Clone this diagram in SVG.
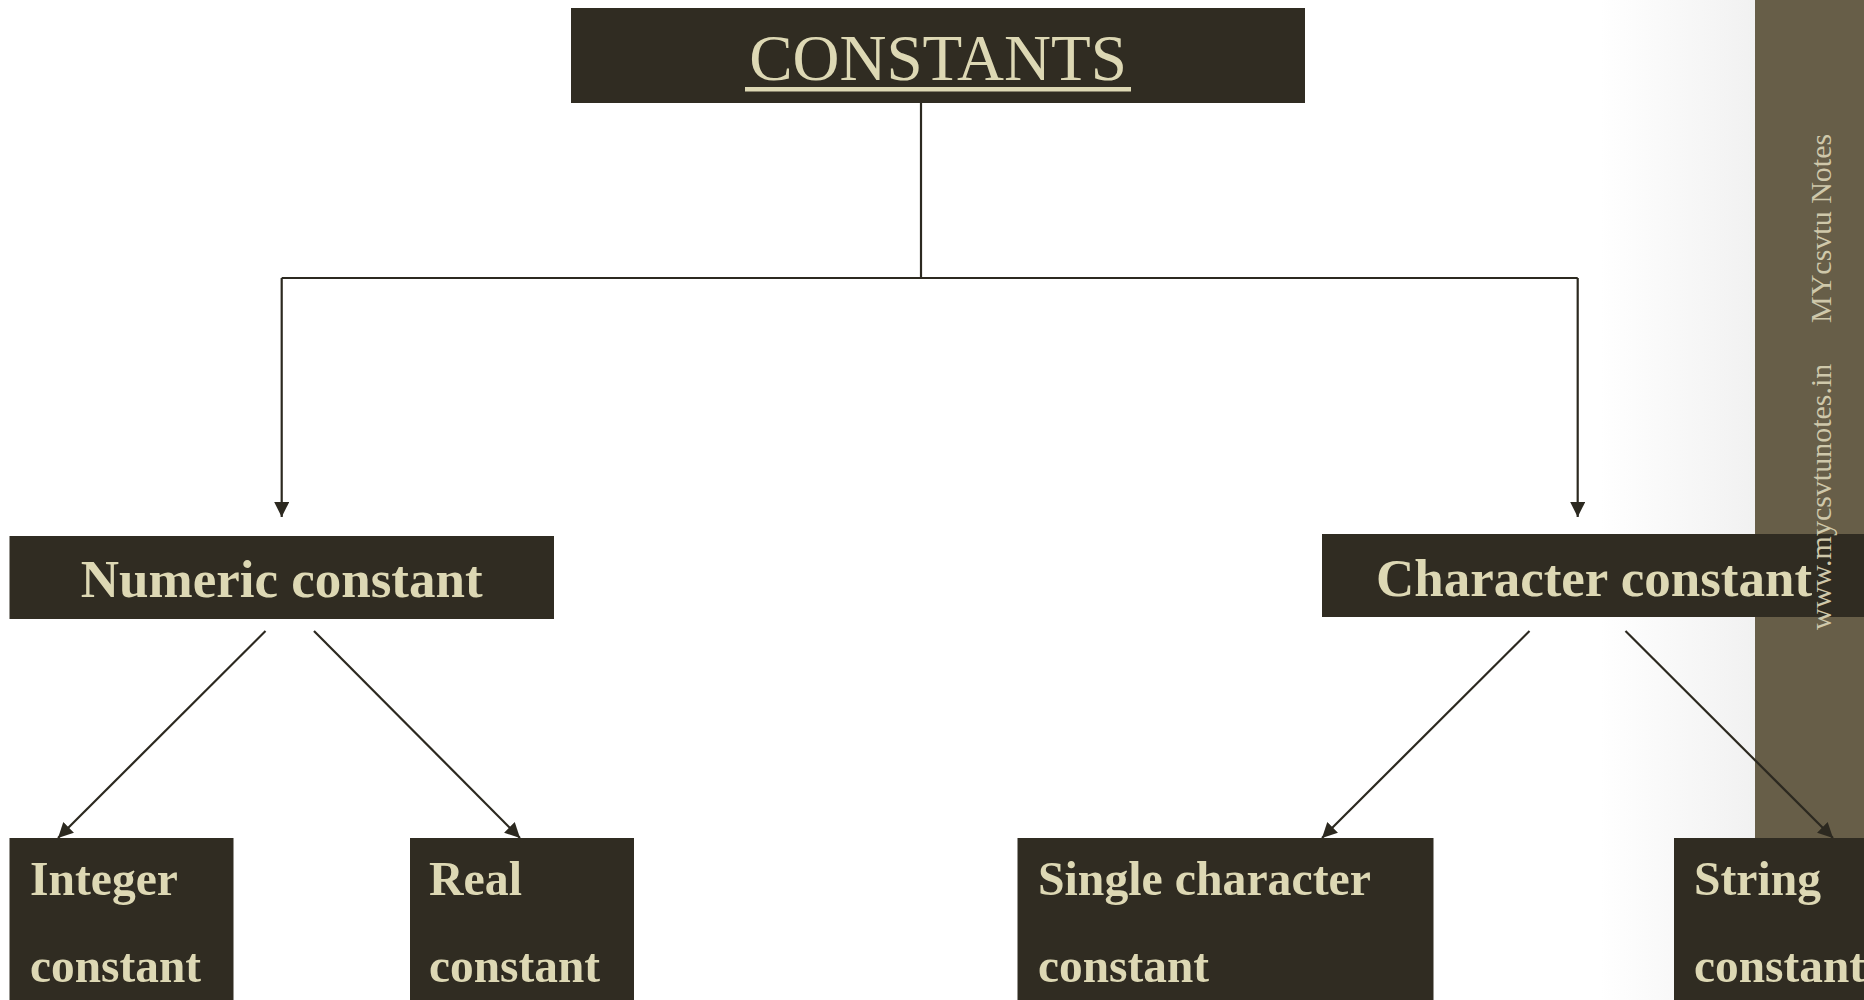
<svg xmlns="http://www.w3.org/2000/svg" width="1864" height="1000" viewBox="0 0 1864 1000">
  <defs>
    <style>
      .box { fill: #302c22; }
      .lbl { font-family: "Liberation Serif", "Times New Roman", serif; fill: #ddd8b4; }
      .parent { font-size: 53px; font-weight: bold; text-anchor: middle; }
      .child { font-size: 49px; font-weight: bold; }
      .edge { stroke: #2c2920; stroke-width: 2.2; fill: none; }
      .wm { font-family: "Liberation Serif", "Times New Roman", serif; font-size: 30px; fill: #cfc8aa; }
    </style>
    <marker id="arrow" markerUnits="userSpaceOnUse" markerWidth="16" markerHeight="16" viewBox="0 0 16 16" refX="15" refY="7.5" orient="auto">
      <path d="M0,0 L15,7.5 L0,15 Z" fill="#2c2920"/>
    </marker>
    <linearGradient id="shade" x1="0" y1="0" x2="1" y2="0">
      <stop offset="0" stop-color="#e6e6e6" stop-opacity="0"/>
      <stop offset="1" stop-color="#e6e6e6" stop-opacity="0.55"/>
    </linearGradient>
  </defs>

  <rect x="0" y="0" width="1864" height="1000" fill="#ffffff"/>
  <rect x="1600" y="0" width="155" height="1000" fill="url(#shade)"/>
  <rect id="sidebar" x="1755" y="0" width="109" height="1000" fill="#675e48"/>

  <g id="connectors">
    <polyline class="edge" points="921,103 921,278"/>
    <polyline class="edge" points="281.7,278 1577.7,278"/>
    <line class="edge" x1="281.7" y1="278" x2="281.7" y2="517" marker-end="url(#arrow)"/>
    <line class="edge" x1="1577.7" y1="278" x2="1577.7" y2="517" marker-end="url(#arrow)"/>
    <line class="edge" x1="265.5" y1="631" x2="58" y2="838" marker-end="url(#arrow)"/>
    <line class="edge" x1="314" y1="631" x2="520" y2="838" marker-end="url(#arrow)"/>
    <line class="edge" x1="1529.5" y1="631" x2="1322" y2="838" marker-end="url(#arrow)"/>
    <line class="edge" x1="1625.5" y1="631" x2="1833" y2="838" marker-end="url(#arrow)"/>
  </g>

  <g id="node-constants">
    <rect class="box" x="571" y="8" width="734" height="95"/>
    <text class="lbl" x="938" y="79.5" font-size="65" text-anchor="middle">CONSTANTS</text>
    <rect x="745" y="87" width="386" height="4.5" fill="#ddd8b4"/>
  </g>

  <g id="node-numeric">
    <rect class="box" x="9.5" y="536" width="544.5" height="83"/>
    <text class="lbl parent" x="281.7" y="597">Numeric constant</text>
  </g>

  <g id="node-character">
    <rect class="box" x="1322" y="534" width="542" height="83"/>
    <text class="lbl parent" x="1594" y="595.5">Character constant</text>
  </g>

  <g id="node-integer">
    <rect class="box" x="9.5" y="838" width="224" height="162"/>
    <text class="lbl child" x="30" y="895" textLength="148" lengthAdjust="spacingAndGlyphs">Integer</text>
    <text class="lbl child" x="30" y="982" textLength="171" lengthAdjust="spacingAndGlyphs">constant</text>
  </g>

  <g id="node-real">
    <rect class="box" x="410" y="838" width="224" height="162"/>
    <text class="lbl child" x="429" y="895" textLength="93" lengthAdjust="spacingAndGlyphs">Real</text>
    <text class="lbl child" x="429" y="982" textLength="171" lengthAdjust="spacingAndGlyphs">constant</text>
  </g>

  <g id="node-single">
    <rect class="box" x="1017.5" y="838" width="416" height="162"/>
    <text class="lbl child" x="1038" y="895" textLength="333" lengthAdjust="spacingAndGlyphs">Single character</text>
    <text class="lbl child" x="1038" y="982" textLength="171" lengthAdjust="spacingAndGlyphs">constant</text>
  </g>

  <g id="node-string">
    <rect class="box" x="1674" y="838" width="190" height="162"/>
    <text class="lbl child" x="1694" y="895" textLength="127" lengthAdjust="spacingAndGlyphs">String</text>
    <text class="lbl child" x="1694" y="982" textLength="171" lengthAdjust="spacingAndGlyphs">constant</text>
  </g>

  <g id="watermark">
    <text class="wm" x="1831" y="630" transform="rotate(-90 1831 630)">www.mycsvtunotes.in</text>
    <text class="wm" x="1831" y="323" transform="rotate(-90 1831 323)">MYcsvtu Notes</text>
  </g>
</svg>
